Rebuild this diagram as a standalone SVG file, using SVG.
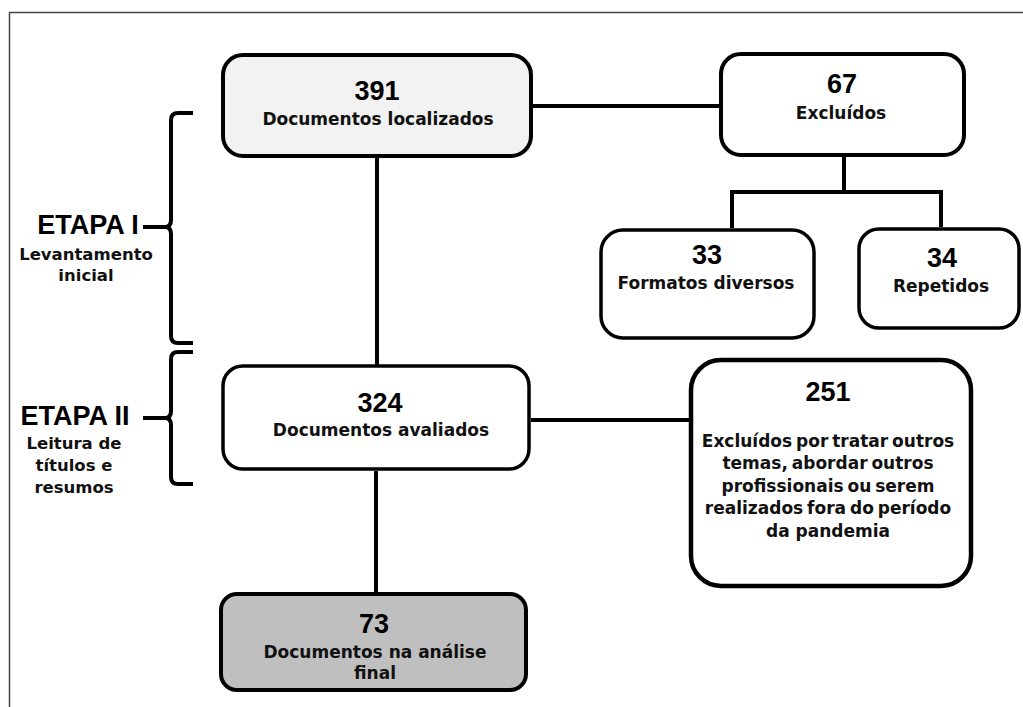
<svg xmlns="http://www.w3.org/2000/svg" width="1023" height="707" viewBox="0 0 1023 707">
<style>
.box{stroke:#000;stroke-width:4;fill:#fff}
.num{font-family:"Liberation Sans",Arial,sans-serif;font-weight:bold;font-size:27px;fill:#000;text-anchor:middle}
.lbl{font-family:"DejaVu Sans",Verdana,sans-serif;font-weight:bold;font-size:17px;fill:#111;text-anchor:middle}
.side{font-family:"DejaVu Sans",Verdana,sans-serif;font-weight:bold;font-size:16.5px;fill:#111;text-anchor:middle}
.etapa{font-family:"Liberation Sans",Arial,sans-serif;font-weight:bold;font-size:27px;fill:#000;text-anchor:middle}
.conn{stroke:#000;stroke-width:4;fill:none}
</style>
<rect x="0" y="0" width="1023" height="707" fill="#fff"/>
<path d="M9.5,707 V12.5 H1023" fill="none" stroke="#444" stroke-width="1.5"/>

<g id="connectors">
<line class="conn" x1="533" y1="106" x2="719" y2="106"/>
<line class="conn" x1="377" y1="158" x2="377" y2="366"/>
<polyline class="conn" points="844,157 844,192"/>
<polyline class="conn" points="732,228 732,192 941,192 941,227"/>
<line class="conn" x1="531" y1="420" x2="689" y2="420"/>
<line class="conn" x1="376" y1="471" x2="376" y2="593"/>
</g>

<g id="etapa1">
<path class="conn" stroke-width="4.5" d="M193,113 H178 Q171,113 171,120 V220 Q171,227 165,227 Q171,227 171,234 V336 Q171,343 178,343 H193"/>
<line class="conn" stroke-width="4.5" x1="143" y1="227" x2="167" y2="227"/>
<text class="etapa" x="88" y="234">ETAPA I</text>
<text class="side" x="86" y="260">Levantamento</text>
<text class="side" x="86" y="281">inicial</text>
</g>

<g id="etapa2">
<path class="conn" stroke-width="4.5" d="M193,352 H178 Q171,352 171,359 V411 Q171,418 165,418 Q171,418 171,425 V477 Q171,484 178,484 H193"/>
<line class="conn" stroke-width="4.5" x1="143" y1="418" x2="167" y2="418"/>
<text class="etapa" x="75" y="425">ETAPA II</text>
<text class="side" x="74" y="449">Leitura de</text>
<text class="side" x="74" y="471">títulos e</text>
<text class="side" x="74" y="493">resumos</text>
</g>

<g id="n391">
<rect class="box" x="223" y="55" width="308" height="101" rx="20" fill="#f2f2f2" style="fill:#f2f2f2"/>
<text class="num" x="377" y="100">391</text>
<text class="lbl" x="378" y="125">Documentos localizados</text>
</g>

<g id="n67">
<rect class="box" x="721" y="54" width="243" height="101" rx="20"/>
<text class="num" x="842" y="93">67</text>
<text class="lbl" x="841" y="119">Excluídos</text>
</g>

<g id="n33">
<rect class="box" x="601" y="230" width="213" height="108" rx="22" style="stroke-width:3.5"/>
<text class="num" x="707" y="264">33</text>
<text class="lbl" x="706" y="289">Formatos diversos</text>
</g>

<g id="n34">
<rect class="box" x="859" y="229" width="160" height="99" rx="20" style="stroke-width:3.5"/>
<text class="num" x="942" y="267">34</text>
<text class="lbl" x="941" y="292">Repetidos</text>
</g>

<g id="n324">
<rect class="box" x="223" y="366" width="306" height="103" rx="20" style="stroke-width:3.5"/>
<text class="num" x="380" y="412">324</text>
<text class="lbl" x="381" y="436">Documentos avaliados</text>
</g>

<g id="n251">
<rect class="box" x="691" y="360" width="280" height="226" rx="30" style="stroke-width:4.5"/>
<text class="num" x="828" y="401">251</text>
<text class="lbl" x="828" y="447" word-spacing="-2">Excluídos por tratar outros</text>
<text class="lbl" x="828" y="469" word-spacing="-2">temas, abordar outros</text>
<text class="lbl" x="828" y="492" word-spacing="-2">profissionais ou serem</text>
<text class="lbl" x="828" y="514" word-spacing="-2">realizados fora do período</text>
<text class="lbl" x="828" y="537">da pandemia</text>
</g>

<g id="n73">
<rect class="box" x="221" y="594" width="305" height="96" rx="16" style="fill:#bfbfbf"/>
<text class="num" x="374" y="633">73</text>
<text class="lbl" x="375" y="658">Documentos na análise</text>
<text class="lbl" x="375" y="679">final</text>
</g>
</svg>
